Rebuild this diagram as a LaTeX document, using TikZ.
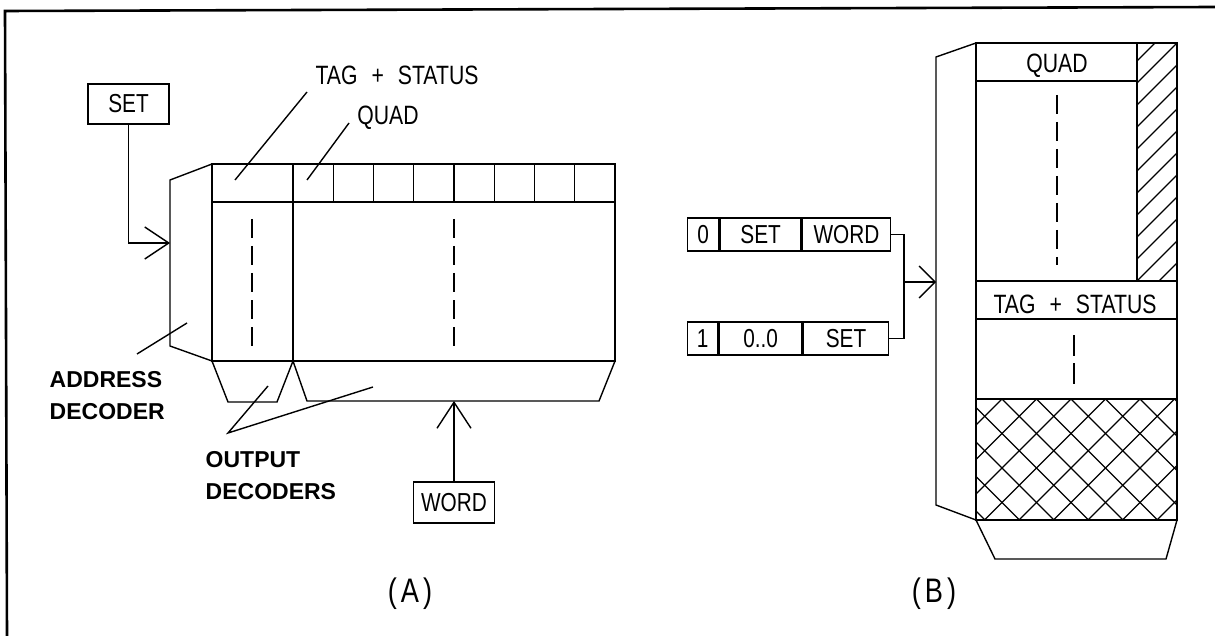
\documentclass[tikz,border=0pt]{standalone}
\usepackage{fontspec}
\usetikzlibrary{arrows.meta}
\newfontfamily\plotfont{Liberation Sans}[FakeStretch=0.8]
\newfontfamily\plotbold{Liberation Sans Bold}
\begin{document}
\begin{tikzpicture}[x=1pt,y=-1pt,
  line width=1.4pt, line join=miter,
  frame/.style={line width=2.6pt},
  cell/.style={draw,inner sep=0pt,text height=18pt,text depth=0pt,
    font=\plotfont\fontsize{26}{30}\selectfont},
  regcell/.style={cell,anchor=west,minimum height=33pt},
  lbl/.style={inner sep=0pt,anchor=base,font=\plotfont\fontsize{26.5}{30}\selectfont},
  heavy/.style={inner sep=0pt,anchor=base west,font=\plotbold\fontsize{23}{27}\selectfont},
  caption/.style={inner sep=0pt,anchor=base,font=\plotfont\fontsize{34}{40}\selectfont},
  hatch/.style={line width=1.3pt},
  longtip/.style={-{Straight Barb[length=24pt,width=32pt]}},
  shorttip/.style={-{Straight Barb[length=16pt,width=32pt]}}
]
\useasboundingbox (0,0) rectangle (1215,636);

% outer frame (top and left edges)
\draw[frame] (7,636) -- (5,11) -- (1215,7);

% ---------------- (A) ----------------
% address decoder
\draw (212,164) -- (170,180) -- (170,346) -- (212,361);
% array body with tag column and quad header
\draw (212,164) rectangle (615,361);
\draw (212,202) -- (615,202);
\draw (293,164) -- (293,361);
\foreach \i in {1,...,7} \draw ({293+40.25*\i},164) -- ({293+40.25*\i},202);
\draw[dash pattern=on 19pt off 8pt] (252,219) -- (252,348);
\draw[dash pattern=on 19pt off 8pt] (454,219) -- (454,348);
% output decoders
\draw (212,361) -- (228,402) -- (277,402) -- (293,361) -- (307,401) -- (599,401) -- (615,361);

% inputs
\node[cell,minimum width=81pt,minimum height=40pt] (setA) at (128.5,104) {SET};
\coordinate (setIn) at (170,243);
\draw[longtip] (setA.south) |- (setIn);
\node[cell,minimum width=81pt,minimum height=41pt] (wordA) at (454,502.5) {WORD};
\coordinate (wordIn) at (454,401);
\draw[-{Straight Barb[length=26pt,width=34pt]}] (wordA.north) -- (wordIn);

% labels and leaders
\node[lbl] (tsA) at (397,85) {TAG\kern14pt +\kern14pt STATUS};
\coordinate (tsA1) at (307,92); \coordinate (tsA2) at (235,180);
\draw (tsA1) -- (tsA2);
\node[lbl] (quadA) at (388,125) {QUAD};
\coordinate (qA1) at (349,123); \coordinate (qA2) at (307,180);
\draw (qA1) -- (qA2);
\node[heavy] (addr1) at (49,387) {ADDRESS};
\node[heavy] (addr2) at (49,419) {DECODER};
\coordinate (adl1) at (187,323); \coordinate (adl2) at (137,354);
\draw (adl1) -- (adl2);
\node[heavy] (out1) at (205,467) {OUTPUT};
\node[heavy] (out2) at (205,499) {DECODERS};
\coordinate (odv) at (228,433); \coordinate (od1) at (268,386); \coordinate (od2) at (373,387);
\draw (od1) -- (odv) -- (od2);
\node[caption] (capA) at (410,602) {(\kern4pt A\kern4pt)};

% ---------------- (B) ----------------
% address registers
\node[regcell,minimum width=31pt] (r1a) at (687,234.5) {0};
\node[regcell,minimum width=81pt] (r1b) at (r1a.east) {SET};
\node[regcell,minimum width=88pt] (r1c) at (r1b.east) {WORD};
\node[regcell,minimum width=30pt] (r2a) at (687,338.5) {1};
\node[regcell,minimum width=83pt] (r2b) at (r2a.east) {0..0};
\node[regcell,minimum width=85pt] (r2c) at (r2b.east) {SET};
\coordinate (bus) at (904,282);
\coordinate (decB) at (936,282);
\draw (r1c.east) -| (bus) |- (r2c.east);
\draw[shorttip] (bus) -- (decB);

% hatched column beside the quad area
\begin{scope}
  \clip (1137,43) rectangle (1177,281);
  \foreach \k in {-1,...,12} \draw[hatch] (1177,{43+22*\k}) -- ++(-60,60);
\end{scope}
% cross-hatched area
\begin{scope}
  \clip (976,399) rectangle (1177,520);
  \foreach \n in {-6,...,7} \draw[hatch] ({983+34.5*\n},380) -- ({1143+34.5*\n},540);
  \foreach \n in {-3,...,11} \draw[hatch] ({1021+34.5*\n},380) -- ({861+34.5*\n},540);
\end{scope}

% address decoder and array outline
\draw (976,43) -- (936,57) -- (936,505) -- (976,520);
\draw (976,43) rectangle (1177,520);
\draw (976,81) -- (1137,81);
\draw (1137,43) -- (1137,281);
\draw (976,281) -- (1177,281);
\draw (976,319) -- (1177,319);
\draw (976,399) -- (1177,399);
\draw[dash pattern=on 19pt off 8pt] (1057,95) -- (1057,265);
\draw[dash pattern=on 21pt off 7pt] (1074,335) -- (1074,385);
% output decoder
\draw (976,520) -- (995,559) -- (1166,559) -- (1177,520);

\node[lbl] (quadB) at (1057,73) {QUAD};
\node[lbl] (tsB) at (1075,313) {TAG\kern14pt +\kern14pt STATUS};
\node[caption] (capB) at (934,602) {(\kern4pt B\kern4pt)};
\end{tikzpicture}
\end{document}
